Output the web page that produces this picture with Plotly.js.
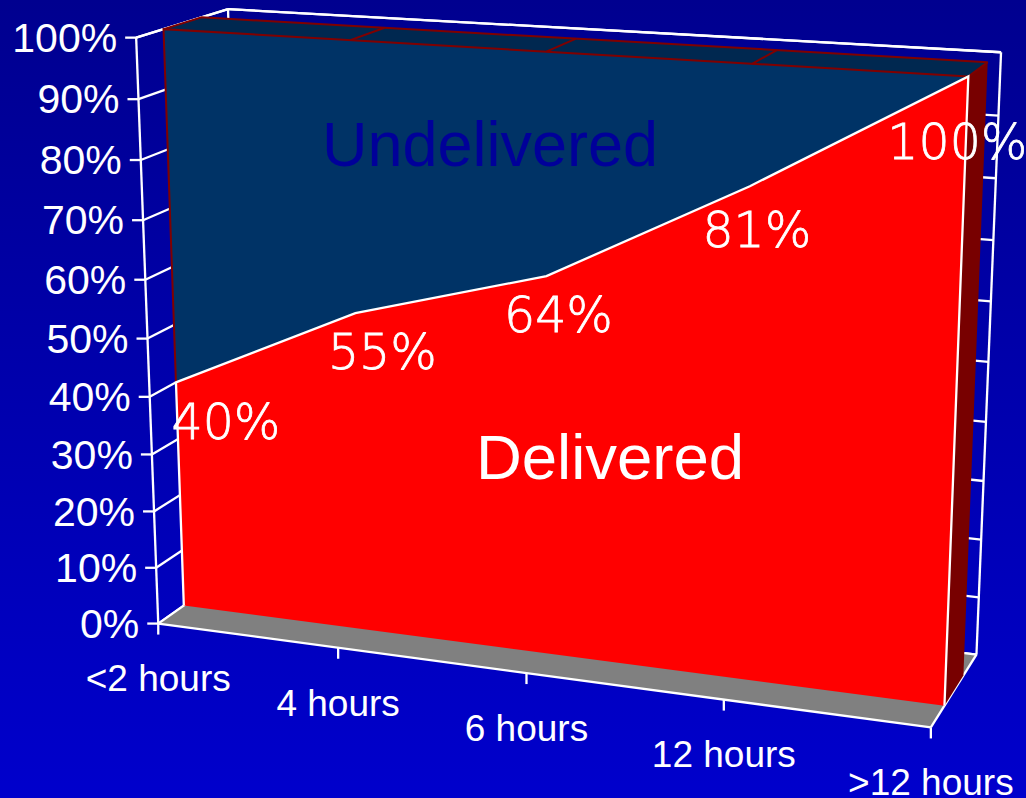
<!DOCTYPE html>
<html>
<head>
<meta charset="utf-8">
<script src="https://cdn.plot.ly/plotly-3.0.1.min.js"></script>
<style>
html,body{margin:0;padding:0;background:#0000cc;}
#chart{width:1026px;height:798px;background:linear-gradient(180deg,#00008f 0%,#0000cc 100%);}
</style>
</head>
<body>
<div id="chart"></div>
<script>
// Delivery share by elapsed time, stacked to 100%.
const categories = ['<2 hours', '4 hours', '6 hours', '12 hours', '>12 hours'];
const deliveredPct = [40, 55, 64, 81, 100];
const undeliveredPct = [60, 45, 36, 19, 0];
const deliveredLabels = ['40%', '55%', '64%', '81%', '100%'];
const percentTicks = [0, 10, 20, 30, 40, 50, 60, 70, 80, 90, 100];
const percentTickLabels = ['0%', '10%', '20%', '30%', '40%', '50%', '60%', '70%', '80%', '90%', '100%'];

// Camera fit for the 3-D box: [category, percent, depth] -> screen pixel.
const cameraFit = [
  [0, 0, 0, 158, 623], [0, 10, 0, 156.5, 568], [0, 60, 0, 145.5, 280], [0, 70, 0, 143, 220.5],
  [0, 80, 0, 141, 160.5], [0, 90, 0, 138.5, 99], [0, 100, 0, 136, 37],
  [1, 0, 0, 338, 648], [2, 0, 0, 526, 673], [3, 0, 0, 724, 700], [4, 0, 0, 931, 727],
  [0, 100, 1, 228, 9], [4, 100, 1, 1001.5, 52.5], [4, 90, 1, 998, 115], [4, 80, 1, 996, 179],
  [4, 70, 1, 993, 240], [4, 10, 1, 978.5, 597], [4, 0, 1, 977, 655]
];
const areaDepthFront = 0.285;
const areaDepthBack = 0.70;

// Least-squares solve for the 11 projection coefficients.
function solveCamera(rows) {
  const n = 11;
  const A = Array.from({length: n}, () => new Array(n + 1).fill(0));
  const add = (c, r) => {
    for (let i = 0; i < n; i++) {
      for (let j = 0; j < n; j++) A[i][j] += c[i] * c[j];
      A[i][n] += c[i] * r;
    }
  };
  rows.forEach(([cat, pct, d, px, py]) => {
    const X = cat / 4, Y = pct / 100, Z = d, u = px / 1000, v = py / 1000;
    add([X, Y, Z, 1, 0, 0, 0, 0, -u * X, -u * Y, -u * Z], u);
    add([0, 0, 0, 0, X, Y, Z, 1, -v * X, -v * Y, -v * Z], v);
  });
  for (let c = 0; c < n; c++) {
    let best = c;
    for (let r = c + 1; r < n; r++) if (Math.abs(A[r][c]) > Math.abs(A[best][c])) best = r;
    [A[c], A[best]] = [A[best], A[c]];
    for (let r = 0; r < n; r++) {
      if (r === c) continue;
      const f = A[r][c] / A[c][c];
      for (let k = c; k <= n; k++) A[r][k] -= f * A[c][k];
    }
  }
  return A.map((row, i) => row[n] / row[i]);
}
const cam = solveCamera(cameraFit);
function project(cat, pct, d) {
  const X = cat / 4, Y = pct / 100, Z = d;
  const w = cam[8] * X + cam[9] * Y + cam[10] * Z + 1;
  return [1000 * (cam[0] * X + cam[1] * Y + cam[2] * Z + cam[3]) / w,
          1000 * (cam[4] * X + cam[5] * Y + cam[6] * Z + cam[7]) / w];
}

const traces = [];
function path(points, color, width) {
  const pts = points.map(p => project(p[0], p[1], p[2]));
  traces.push({type: 'scatter', mode: 'lines', x: pts.map(p => p[0]), y: pts.map(p => p[1]),
    line: {color: color, width: width, simplify: false}, hoverinfo: 'skip', showlegend: false, cliponaxis: false});
}
function face(points, color) {
  const pts = points.map(p => project(p[0], p[1], p[2]));
  traces.push({type: 'scatter', mode: 'lines', x: pts.map(p => p[0]), y: pts.map(p => p[1]),
    fill: 'toself', fillcolor: color, line: {width: 0, color: color, simplify: false}, hoverinfo: 'skip',
    showlegend: false, cliponaxis: false});
}
function labels(pts, text, size, color, position, family, weight) {
  traces.push({type: 'scatter', mode: 'text', x: pts.map(p => p[0]), y: pts.map(p => p[1]), text: text,
    textposition: position, textfont: {family: family, size: size, color: color, weight: weight || 400},
    hoverinfo: 'skip', showlegend: false, cliponaxis: false});
}

const last = categories.length - 1;
const GRID = '#ffffff', GRID_W = 2.3;

// Walls: gridlines on the left wall and on the back wall.
percentTicks.forEach(p => {
  path([[0, p, 0], [0, p, 1]], GRID, GRID_W);
  path([[0, p, 1], [last, p, 1]], GRID, GRID_W);
});

// Floor.
face([[0, 0, 0], [last, 0, 0], [last, 0, 1], [0, 0, 1]], '#808080');

// Box outline and axes.
path([[0, 100, 0], [0, 0, 0]], GRID, GRID_W);
path([[0, 0, 0], [last, 0, 0]], GRID, GRID_W);
path([[last, 0, 0], [last, 0, 1]], GRID, GRID_W);
path([[last, 100, 1], [0, 100, 1]], GRID, GRID_W);
path([[0, 100, 1], [0, 100, 0]], GRID, GRID_W);
path([[0, 0, 0], [0, 0, 1]], GRID, GRID_W);
path([[0, 0, 1], [last, 0, 1]], GRID, GRID_W);
path([[0, 100, 1], [0, 0, 1]], GRID, GRID_W);

// Undelivered band: flat top face, then the delivered end cap, then the front faces.
face([[0, 100, areaDepthFront], [last, 100, areaDepthFront], [last, 100, areaDepthBack], [0, 100, areaDepthBack]], '#002850');
face([[last, 0, areaDepthFront], [last, 100, areaDepthFront], [last, 100, areaDepthBack], [last, 0, areaDepthBack]], '#780000');

const topEdge = categories.map((_, i) => [i, deliveredPct[i] + undeliveredPct[i], areaDepthFront]);
const deliveredEdge = categories.map((_, i) => [i, deliveredPct[i], areaDepthFront]);
face(topEdge.concat(deliveredEdge.slice().reverse()), '#003366');
face(deliveredEdge.concat([[last, 0, areaDepthFront], [0, 0, areaDepthFront]]), '#ff0000');

const EDGE = '#800000';
path([[0, deliveredPct[0], areaDepthFront], [0, 100, areaDepthFront], [last, 100, areaDepthFront]], EDGE, 2);
path([[0, 100, areaDepthFront], [0, 100, areaDepthBack], [last, 100, areaDepthBack], [last, 100, areaDepthFront]], EDGE, 2);
categories.forEach((_, i) => {
  if (i > 0 && i < last) path([[i, 100, areaDepthFront], [i, 100, areaDepthBack]], EDGE, 2);
});
path([[0, 0, areaDepthFront], [0, deliveredPct[0], areaDepthFront]].concat(deliveredEdge.slice(1)).concat([[last, 0, areaDepthFront]]), GRID, 2.3);

// Right edge of the back wall.
path([[last, 0, 1], [last, 100, 1]], GRID, GRID_W);

// Tick marks: horizontal stubs on the value axis, vertical stubs on the category axis.
percentTicks.forEach(p => {
  const a = project(0, p, 0);
  traces.push({type: 'scatter', mode: 'lines', x: [a[0] - 11, a[0]], y: [a[1], a[1]],
    line: {color: GRID, width: GRID_W}, hoverinfo: 'skip', showlegend: false});
});
categories.forEach((_, i) => {
  const a = project(i, 0, 0);
  traces.push({type: 'scatter', mode: 'lines', x: [a[0], a[0]], y: [a[1], a[1] + 11],
    line: {color: GRID, width: GRID_W}, hoverinfo: 'skip', showlegend: false});
});

const SANS = '"Liberation Sans", Arial, sans-serif';
labels(percentTicks.map(p => { const a = project(0, p, 0); return [a[0] - 19, a[1] + 4]; }),
  percentTickLabels, 41, '#ffffff', 'middle left', SANS);
labels(categories.map((_, i) => { const a = project(i, 0, 0); return [a[0], a[1] + 58.5]; }),
  categories, 37, '#ffffff', 'middle center', SANS);

// Value labels sit just under the delivered edge.
const labelNudge = [[50, 44], [27, 44], [12, 44], [7, 49], [-11, 70]];
labels(deliveredEdge.map((p, i) => { const a = project(p[0], p[1], p[2]); return [a[0] + labelNudge[i][0], a[1] + labelNudge[i][1]]; }),
  deliveredLabels, 49, '#ffffff', 'middle center', '"DejaVu Sans", sans-serif', 300);

// Series names written on the faces.
labels([[490, 150]], ['Undelivered'], 63, '#000099', 'middle center', SANS);
labels([[610, 463]], ['Delivered'], 63.5, '#ffffff', 'middle center', SANS);

Plotly.newPlot('chart', traces, {
  width: 1026, height: 798,
  margin: {l: 0, r: 0, t: 0, b: 0},
  paper_bgcolor: 'rgba(0,0,0,0)', plot_bgcolor: 'rgba(0,0,0,0)',
  showlegend: false,
  xaxis: {range: [0, 1026], visible: false, fixedrange: true},
  yaxis: {range: [798, 0], visible: false, fixedrange: true}
}, {displayModeBar: false, staticPlot: true}).then(() => {
  // Give the light value labels a little more body.
  document.querySelectorAll('#chart .textpoint text').forEach(t => {
    if (deliveredLabels.includes(t.textContent) && t.style.fontSize === '49px') {
      t.style.stroke = '#ffffff';
      t.style.strokeWidth = '0.8px';
    }
  });
});
</script>
</body>
</html>
